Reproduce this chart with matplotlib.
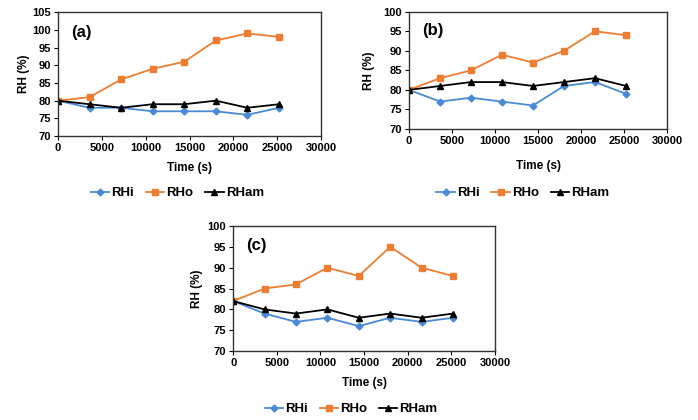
import numpy as np
import matplotlib
matplotlib.use('Agg')
import matplotlib.pyplot as plt

plt.rcParams.update({'font.family': ['Liberation Sans', 'DejaVu Sans'],
                     'font.weight': 'bold', 'font.size': 8})

time_s = [0, 3600, 7200, 10800, 14400, 18000, 21600, 25200]

a_rhi = [80, 78, 78, 77, 77, 77, 76, 78]
a_rho = [80, 81, 86, 89, 91, 97, 99, 98]
a_rham = [80, 79, 78, 79, 79, 80, 78, 79]

b_rhi = [80, 77, 78, 77, 76, 81, 82, 79]
b_rho = [80, 83, 85, 89, 87, 90, 95, 94]
b_rham = [80, 81, 82, 82, 81, 82, 83, 81]

c_rhi = [82, 79, 77, 78, 76, 78, 77, 78]
c_rho = [82, 85, 86, 90, 88, 95, 90, 88]
c_rham = [82, 80, 79, 80, 78, 79, 78, 79]

# tag, series, y range, axes rect, legend centre, xlabel pad, ylabel pad
panels = [
    ('(a)', a_rhi, a_rho, a_rham, (70, 105), [0.083, 0.676, 0.377, 0.295], (0.254, 0.54), 6.5, 2),
    ('(b)', b_rhi, b_rho, b_rham, (70, 100), [0.586, 0.693, 0.370, 0.279], (0.749, 0.54), 10, 6),
    ('(c)', c_rhi, c_rho, c_rham, (70, 100), [0.334, 0.164, 0.375, 0.298], (0.503, 0.026), 6.5, 3),
]

BLUE = '#4a8ad4'
ORANGE = '#ed7d31'
BLACK = '#000000'

fig = plt.figure(figsize=(6.98, 4.2), dpi=100)

for tag, rhi, rho, rham, ylim, rect, leg_pos, xpad, ypad in panels:
    ax = fig.add_axes(rect)
    l1, = ax.plot(time_s, rhi, color=BLUE, marker='D', markersize=3.5, lw=1.3, label='RHi')
    l2, = ax.plot(time_s, rho, color=ORANGE, marker='s', markersize=4, lw=1.3, label='RHo')
    l3, = ax.plot(time_s, rham, color=BLACK, marker='^', markersize=4.5, lw=1.3, label='RHam')
    ax.set_xlim(0, 30000)
    ax.set_ylim(*ylim)
    ax.set_xticks(range(0, 30001, 5000))
    ax.set_yticks(range(ylim[0], ylim[1] + 1, 5))
    ax.tick_params(direction='out', length=3, width=0.8, pad=2, labelsize=8)
    for sp in ax.spines.values():
        sp.set_color('#333333')
        sp.set_linewidth(1.0)
    ax.set_xlabel('Time (s)', fontsize=8.5, fontweight='bold', labelpad=xpad)
    ax.set_ylabel('RH (%)', fontsize=8.5, fontweight='bold', labelpad=ypad)
    ax.text(0.05, 0.84, tag, transform=ax.transAxes, fontsize=12,
            fontweight='bold', va='center')
    fig.legend(handles=[l1, l2, l3], loc='center', bbox_to_anchor=leg_pos,
               ncol=3, frameon=False, fontsize=9.5, handlelength=1.4,
               handletextpad=0.15, columnspacing=0.9)

plt.savefig('out.png', dpi=100)
